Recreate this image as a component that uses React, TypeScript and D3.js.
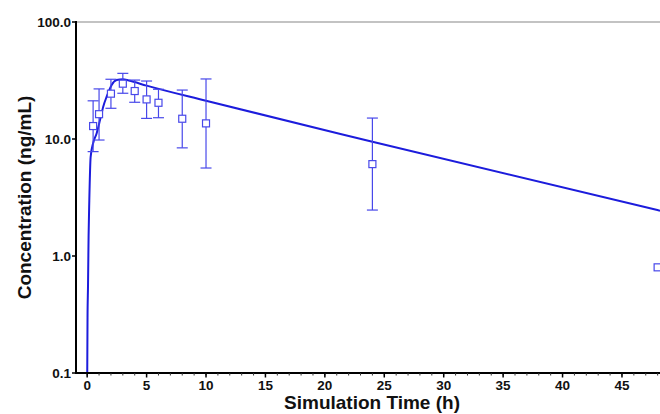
import React from 'react'
import * as d3 from 'd3'

// observed concentrations (mean with error bars)
const obsTime = [0.5, 1, 2, 3, 4, 5, 6, 8, 10, 24, 48]
const obsMean = [12.9, 16.3, 24.4, 29.7, 25.7, 21.8, 20.4, 14.9, 13.6, 6.1, 0.8]
const obsUpper = [21.2, 26.8, 32.4, 36.4, 31.9, 31.3, 26.6, 26.2, 32.6, 15.1, null]
const obsLower = [7.8, 9.8, 18.3, 24.6, 20.6, 15.0, 15.2, 8.4, 5.65, 2.47, null]

// simulated profile
const simTime = [0, 0.03, 0.07, 0.12, 0.18, 0.29, 0.5, 0.8, 1.08, 1.35, 1.64, 2.06, 2.48, 3.0, 3.5, 5, 10, 24, 48.2]
const simConc = [0.08, 0.3, 0.55, 1.5, 3.0, 7.0, 9.2, 11.2, 14.5, 18.9, 23.0, 29.0, 31.9, 32.4, 31.6, 28.6, 21.2, 9.48, 2.44]

const yTicks = [0.1, 1, 10, 100]
const xMajor = [0, 5, 10, 15, 20, 25, 30, 35, 40, 45]
const xMinor = d3.range(0, 49, 1)

const W = 660
const H = 414
const plot = { left: 76, right: 660, top: 22, bottom: 373 }

const LINE = '#1c1cdc'
const MARK = '#4848ea'
const FONT = '"Liberation Sans", Arial, sans-serif'

export default function App() {
  const x = d3.scaleLinear().domain([-0.94, 48.2]).range([plot.left, plot.right])
  const y = d3.scaleLog().domain([0.1, 100]).range([plot.bottom, plot.top])

  const line = d3
    .line<number>()
    .x((_, i) => x(simTime[i]))
    .y(d => y(d))
    .curve(d3.curveMonotoneX)

  const cap = 5.5
  const box = 3.5

  return (
    <svg width={W} height={H} style={{ position: 'absolute', left: 0, top: 0, background: '#fff' }}>
      <defs>
        <clipPath id="plotClip">
          <rect x={plot.left} y={plot.top} width={plot.right - plot.left} height={plot.bottom - plot.top} />
        </clipPath>
      </defs>

      {/* frame */}
      <line x1={plot.left} x2={plot.right} y1={plot.top} y2={plot.top} stroke="#888" strokeWidth={1.2} />

      <g clipPath="url(#plotClip)">
        <path d={line(simConc) || ''} fill="none" stroke={LINE} strokeWidth={2} />
        {obsTime.map((t, i) => {
          const cx = x(t)
          const cy = y(obsMean[i])
          const up = obsUpper[i]
          const lo = obsLower[i]
          return (
            <g key={i} stroke={MARK} strokeWidth={1.2} fill="none">
              {up != null && lo != null && (
                <>
                  <line x1={cx} x2={cx} y1={y(up)} y2={cy - box} />
                  <line x1={cx} x2={cx} y1={cy + box} y2={y(lo)} />
                  <line x1={cx - cap} x2={cx + cap} y1={y(up)} y2={y(up)} />
                  <line x1={cx - cap} x2={cx + cap} y1={y(lo)} y2={y(lo)} />
                </>
              )}
              <rect x={cx - box} y={cy - box} width={box * 2} height={box * 2} fill="#fff" />
            </g>
          )
        })}
      </g>

      {/* y axis */}
      <line x1={plot.left} x2={plot.left} y1={plot.top - 1} y2={plot.bottom + 1} stroke="#000" strokeWidth={2} />
      {yTicks.map(v => (
        <g key={v}>
          <line x1={plot.left - 4} x2={plot.left} y1={y(v)} y2={y(v)} stroke="#000" strokeWidth={1.5} />
          <text
            x={plot.left - 5}
            y={y(v)}
            dy="0.35em"
            textAnchor="end"
            fontFamily={FONT}
            fontWeight="bold"
            fontSize={13.5}
            fill="#111"
          >
            {v.toFixed(1)}
          </text>
        </g>
      ))}

      {/* x axis */}
      <line x1={plot.left - 1} x2={plot.right} y1={plot.bottom} y2={plot.bottom} stroke="#000" strokeWidth={2} />
      {xMinor.map(v => (
        <line key={'m' + v} x1={x(v)} x2={x(v)} y1={plot.bottom} y2={plot.bottom + 2.5} stroke="#333" strokeWidth={1} />
      ))}
      {xMajor.map(v => (
        <g key={v}>
          <line x1={x(v)} x2={x(v)} y1={plot.bottom} y2={plot.bottom + 4.5} stroke="#000" strokeWidth={1.5} />
          <text
            x={x(v)}
            y={plot.bottom + 17}
            textAnchor="middle"
            fontFamily={FONT}
            fontWeight="bold"
            fontSize={13.5}
            fill="#111"
          >
            {v}
          </text>
        </g>
      ))}

      {/* titles */}
      <text
        x={(plot.left + plot.right) / 2 + 4}
        y={409}
        textAnchor="middle"
        fontFamily={FONT}
        fontWeight="bold"
        fontSize={19}
        fill="#111"
      >
        Simulation Time (h)
      </text>
      <text
        transform={`translate(31,${(plot.top + plot.bottom) / 2}) rotate(-90)`}
        textAnchor="middle"
        fontFamily={FONT}
        fontWeight="bold"
        fontSize={19}
        fill="#111"
      >
        Concentration (ng/mL)
      </text>
    </svg>
  )
}
